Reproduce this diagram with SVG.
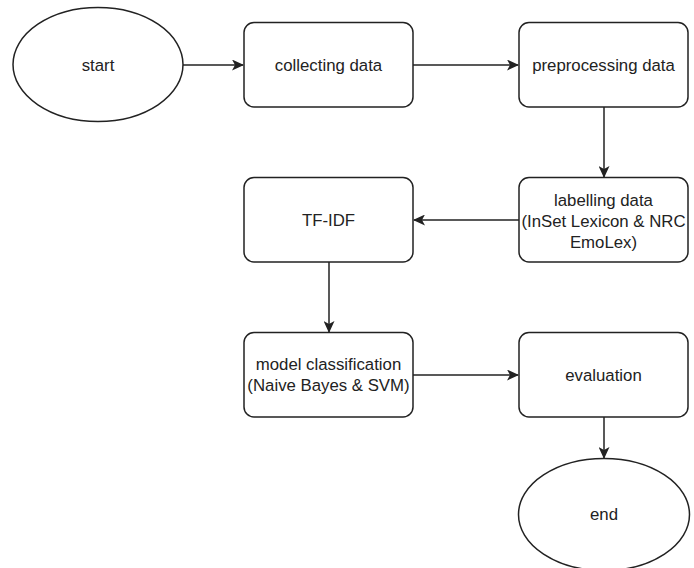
<svg xmlns="http://www.w3.org/2000/svg" width="694" height="568" viewBox="0 0 694 568">
<defs>
<style>
.shape{fill:#ffffff;stroke:#222222;stroke-width:1.5}
.edge{fill:none;stroke:#222222;stroke-width:1.5}
.lbl{font-family:"Liberation Sans",Arial,sans-serif;font-size:16.8px;fill:#222222;text-anchor:middle}
</style>
<marker id="arr" viewBox="0 0 12 11" refX="11" refY="5.5" markerWidth="12" markerHeight="11" markerUnits="userSpaceOnUse" orient="auto">
<path d="M0,0 L12,5.5 L0,11 L3,5.5 Z" fill="#222222"/>
</marker>
</defs>
<rect width="694" height="568" fill="#ffffff"/>
<g id="connectors">
<line class="edge" x1="183" y1="65" x2="243" y2="65" marker-end="url(#arr)"/>
<line class="edge" x1="413" y1="65" x2="518" y2="65" marker-end="url(#arr)"/>
<line class="edge" x1="604" y1="107" x2="604" y2="177" marker-end="url(#arr)"/>
<line class="edge" x1="519" y1="220" x2="414" y2="220" marker-end="url(#arr)"/>
<line class="edge" x1="329" y1="262" x2="329" y2="332" marker-end="url(#arr)"/>
<line class="edge" x1="413" y1="375" x2="518" y2="375" marker-end="url(#arr)"/>
<line class="edge" x1="604" y1="417" x2="604" y2="458" marker-end="url(#arr)"/>
</g>
<g id="start">
<ellipse class="shape" cx="98" cy="64.5" rx="85" ry="57"/>
<text class="lbl" x="98" y="71">start</text>
</g>
<g id="collecting">
<rect class="shape" x="244" y="22.5" width="169" height="84.5" rx="10"/>
<text class="lbl" x="328.5" y="71">collecting data</text>
</g>
<g id="preprocessing">
<rect class="shape" x="519" y="22.5" width="169" height="84.5" rx="10"/>
<text class="lbl" x="603.5" y="71">preprocessing data</text>
</g>
<g id="labelling">
<rect class="shape" x="519" y="177.5" width="169" height="84.5" rx="10"/>
<text class="lbl" x="603.5" y="206">labelling data</text>
<text class="lbl" x="603.5" y="227">(InSet Lexicon &amp; NRC</text>
<text class="lbl" x="603.5" y="248">EmoLex)</text>
</g>
<g id="tfidf">
<rect class="shape" x="244" y="177.5" width="169" height="84.5" rx="10"/>
<text class="lbl" x="328.5" y="226">TF-IDF</text>
</g>
<g id="model">
<rect class="shape" x="244" y="332.5" width="169" height="84.5" rx="10"/>
<text class="lbl" x="328.5" y="370">model classification</text>
<text class="lbl" x="328.5" y="391">(Naive Bayes &amp; SVM)</text>
</g>
<g id="evaluation">
<rect class="shape" x="519" y="332.5" width="169" height="84.5" rx="10"/>
<text class="lbl" x="603.5" y="381">evaluation</text>
</g>
<g id="end">
<ellipse class="shape" cx="604" cy="514.5" rx="85.5" ry="56"/>
<text class="lbl" x="604" y="520">end</text>
</g>
</svg>
